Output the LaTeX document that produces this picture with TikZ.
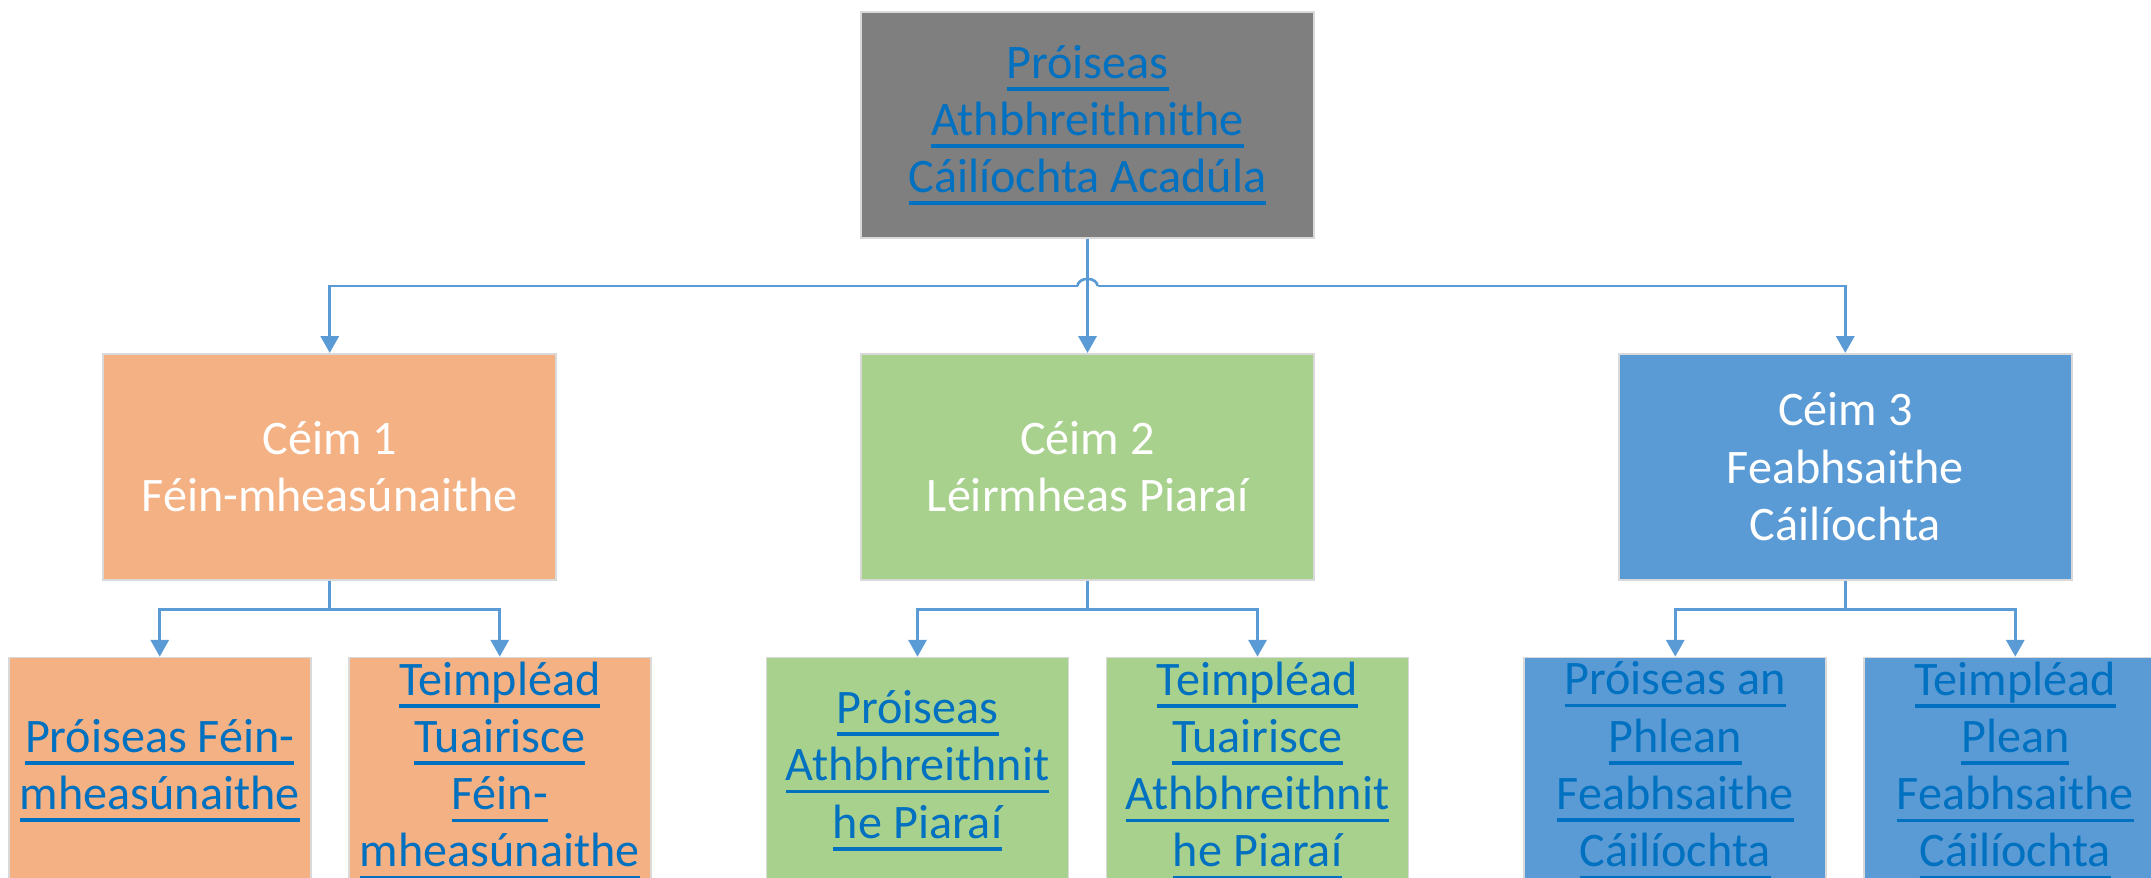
\documentclass[tikz,border=0pt]{standalone}
\usepackage{fontspec}
\setmainfont{Carlito}
\usetikzlibrary{arrows.meta,positioning}
\definecolor{hubgrey}{HTML}{7F7F7F}
\definecolor{peach}{HTML}{F4B183}
\definecolor{sage}{HTML}{A9D18E}
\definecolor{sky}{HTML}{5B9BD5}
\definecolor{linkblue}{HTML}{0070C0}
\newcommand\lnk[1]{{\setbox0\hbox{#1}\rlap{\rule[-0.26em]{\wd0}{0.075em}}\box0}}
\tikzset{%
box/.style={draw=black!15, line width=0.5pt, minimum height=2.26cm, inner sep=0pt, align=center,
            font=\fontsize{13.7}{16.3}\selectfont},
head/.style={box, fill=hubgrey, minimum width=4.53cm, text=linkblue},
stage/.style={box, minimum width=4.53cm, text=white},
doc/.style={box, minimum width=3.02cm, text=linkblue},
link/.style={draw=sky, line width=0.75pt, -{Triangle[length=4.8pt,width=5.2pt]}},
wire/.style={draw=sky, line width=0.75pt}
}

\begin{document}
\begin{tikzpicture}
\path[use as bounding box] (0,0) rectangle (21.51,-8.78);
\clip (0,0) rectangle (21.51,-8.78);

\node[head]                     (review) at (10.875,-1.25)     {\lnk{Próiseas}\\ \lnk{Athbhreithnithe}\\ \lnk{Cáilíochta Acadúla}};
\node[stage,fill=sage,below = 1.14cm]  (stage2) at (review.south) {Céim 2\\ Léirmheas Piaraí};
\node[stage,fill=peach,left = 3.03cm]  (stage1) at (stage2.west)  {Céim 1\\ Féin-mheasúnaithe};
\node[stage,fill=sky,right = 3.03cm]   (stage3) at (stage2.east)  {Céim 3\\ Feabhsaithe\\ Cáilíochta};

\node[doc,fill=peach,below = 0.76cm] (selfproc)   at ([xshift=-1.7cm]stage1.south) {\lnk{Próiseas Féin-}\\ \lnk{mheasúnaithe}};
\node[doc,fill=peach,below = 0.76cm] (selftpl)    at ([xshift=1.7cm]stage1.south)  {\lnk{Teimpléad}\\ \lnk{Tuairisce}\\ \lnk{Féin-}\\ \lnk{mheasúnaithe}};
\node[doc,fill=sage,below = 0.76cm]  (peerproc)   at ([xshift=-1.7cm]stage2.south) {\lnk{Próiseas}\\ \lnk{Athbhreithnit}\\ \lnk{he Piaraí}};
\node[doc,fill=sage,below = 0.76cm]  (peertpl)    at ([xshift=1.7cm]stage2.south)  {\lnk{Teimpléad}\\ \lnk{Tuairisce}\\ \lnk{Athbhreithnit}\\ \lnk{he Piaraí}};
\node[doc,fill=sky,below = 0.76cm]   (planproc)   at ([xshift=-1.7cm]stage3.south) {\lnk{Próiseas an}\\ \lnk{Phlean}\\ \lnk{Feabhsaithe}\\ \lnk{Cáilíochta}};
\node[doc,fill=sky,below = 0.76cm]   (plantpl)    at ([xshift=1.7cm]stage3.south)  {\lnk{Teimpléad}\\ \lnk{Plean}\\ \lnk{Feabhsaithe}\\ \lnk{Cáilíochta}};

\coordinate (hub) at ([yshift=-0.47cm]review.south);
\draw[link] (review) -- (stage2);
\draw[link] ([xshift=-0.1cm]hub) -| (stage1.north);
\draw[link] ([xshift=0.1cm]hub) -| (stage3.north);
\draw[wire] ([xshift=-0.1cm]hub) arc[start angle=180, end angle=0, x radius=0.1cm, y radius=0.07cm];

\foreach \s/\c in {stage1/selfproc, stage1/selftpl,
                   stage2/peerproc, stage2/peertpl,
                   stage3/planproc, stage3/plantpl}
{
  \draw[link] (\s.south) -- ++(0,-0.29) -| (\c.north);
}
\end{tikzpicture}
\end{document}
